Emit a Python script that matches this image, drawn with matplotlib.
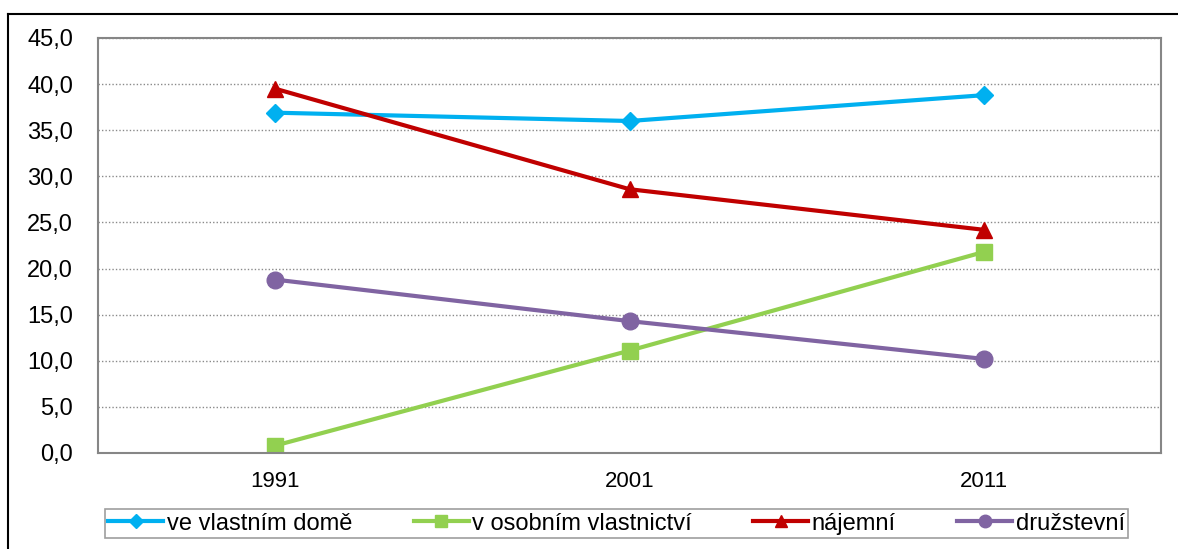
import numpy as np
import matplotlib.pyplot as plt
from matplotlib.lines import Line2D

plt.rcParams['font.family'] = ['Liberation Sans', 'DejaVu Sans']

years = ['1991', '2001', '2011']
vlastni_dum = [36.9, 36.0, 38.8]
osobni = [0.8, 11.1, 21.8]
najemni = [39.5, 28.6, 24.2]
druzstevni = [18.8, 14.3, 10.2]
yticks = [0, 5, 10, 15, 20, 25, 30, 35, 40, 45]


def main():
    fig = plt.figure(figsize=(11.78, 5.49), dpi=100, facecolor='w')
    ax = fig.add_axes([0.0832, 0.1749, 0.9024, 0.7559])

    x = np.arange(len(years))
    ax.plot(x, vlastni_dum, color='#00B0F0', lw=3, marker='D', ms=9, label='ve vlastním domě')
    ax.plot(x, osobni, color='#92D050', lw=3, marker='s', ms=11, label='v osobním vlastnictví')
    ax.plot(x, najemni, color='#C00000', lw=3, marker='^', ms=12, label='nájemní')
    ax.plot(x, druzstevni, color='#8064A2', lw=3, marker='o', ms=12, label='družstevní')

    ax.set_xlim(-0.5, 2.5)
    ax.set_ylim(0, 45)
    ax.set_xticks(x)
    ax.set_xticklabels(years)
    ax.set_yticks(yticks)
    ax.yaxis.set_major_formatter(plt.FuncFormatter(lambda v, p: ('%.1f' % v).replace('.', ',')))
    ax.tick_params(length=0, colors='black')
    ax.tick_params(axis='y', pad=18, labelsize=17)
    ax.tick_params(axis='x', pad=13, labelsize=16)
    ax.grid(axis='y', color='#8a8a8a', linestyle=(0, (1, 1.5)), lw=1)
    ax.set_axisbelow(True)
    for s in ax.spines.values():
        s.set_color('#868686')
        s.set_linewidth(1.5)

    leg = fig.legend(loc='center', bbox_to_anchor=(0.5234, 0.0464), ncol=4, fontsize=17,
                     frameon=True, fancybox=False, edgecolor='#868686', handlelength=2.33,
                     columnspacing=2.6, handletextpad=0.15, borderpad=0.15, markerscale=0.75)
    leg.get_frame().set_linewidth(1.2)

    # outer chart frame
    fig.add_artist(Line2D([8 / 1178, 1.0], [1 - 14 / 549, 1 - 14 / 549], color='black', lw=1.5,
                          transform=fig.transFigure))
    fig.add_artist(Line2D([8 / 1178, 8 / 1178], [0, 1 - 14 / 549], color='black', lw=1.5,
                          transform=fig.transFigure))

    plt.savefig('out.png', dpi=100, facecolor='w')
    plt.close('all')


if __name__ == '__main__':
    main()
